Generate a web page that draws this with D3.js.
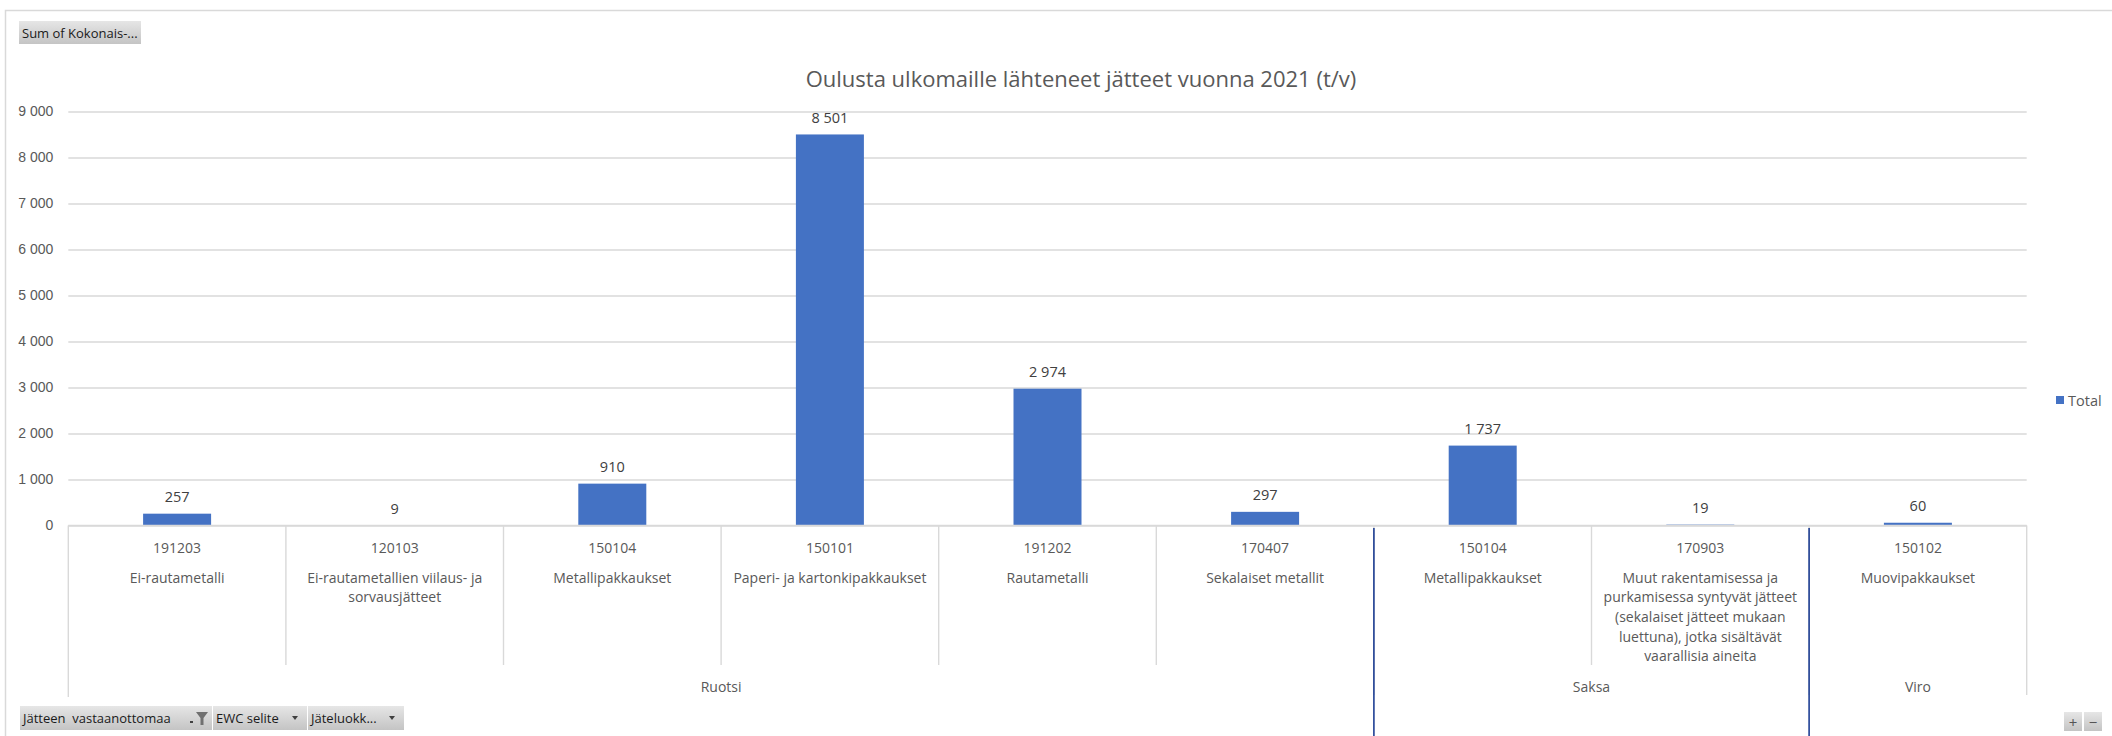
<!DOCTYPE html>
<html>
<head>
<meta charset="utf-8">
<script src="https://cdn.jsdelivr.net/npm/d3@7"></script>
<style>
  body { margin: 0; background: #fff; }
  svg { display: block; font-family: "Open Sans", "Noto Sans", sans-serif; }
</style>
</head>
<body>
<svg></svg>
<script>
// data
const codes = ["191203", "120103", "150104", "150101", "191202", "170407", "150104", "170903", "150102"]
const names = [
    ["Ei-rautametalli"],
    ["Ei-rautametallien viilaus- ja", "sorvausjätteet"],
    ["Metallipakkaukset"],
    ["Paperi- ja kartonkipakkaukset"],
    ["Rautametalli"],
    ["Sekalaiset metallit"],
    ["Metallipakkaukset"],
    ["Muut rakentamisessa ja", "purkamisessa syntyvät jätteet", "(sekalaiset jätteet mukaan", "luettuna), jotka sisältävät", "vaarallisia aineita"],
    ["Muovipakkaukset"]
]
const countries = ["Ruotsi", "Ruotsi", "Ruotsi", "Ruotsi", "Ruotsi", "Ruotsi", "Saksa", "Saksa", "Viro"]
const totals = [257, 9, 910, 8501, 2974, 297, 1737, 19, 60]
const yTicks = [0, 1000, 2000, 3000, 4000, 5000, 6000, 7000, 8000, 9000]

const chartTitle = "Oulusta ulkomaille lähteneet jätteet vuonna 2021 (t/v)"
const seriesName = "Total"
const fieldButton = "Sum of Kokonais-..."
const axisButtons = ["Jätteen  vastaanottomaa", "EWC selite", "Jäteluokk..."]

let width = 2112
let height = 736
let plotLeft = 68.3
let plotRight = 2026.7
let plotTop = 111.5
let plotBottom = 525.5

let barColor = "#4472c4"
let textColor = "#595959"
let gridColor = "#d9d9d9"

let svg = d3.select("svg").attr("width", width).attr("height", height)

// frame of the chart area
svg.append("path")
    .attr("d", "M5.5," + height + " V10.5 H" + width)
    .attr("fill", "none")
    .attr("stroke", "#d9d9d9")
    .attr("stroke-width", 1.5)

let idx = d3.range(codes.length)

let xScale = d3.scaleBand()
    .domain(idx)
    .range([plotLeft, plotRight])

let barScale = d3.scaleBand()
    .domain(idx)
    .range([plotLeft, plotRight])
    .paddingInner(0.6875)
    .paddingOuter(0.34375)

let yScale = d3.scaleLinear()
    .domain([0, 9000])
    .range([plotBottom, plotTop])

let fmt = d3.formatLocale({ decimal: ",", thousands: "\u00a0", grouping: [3], currency: ["", ""] }).format(",d")

// y axis + gridlines
let yAxis = d3.axisLeft(yScale)
    .tickValues(yTicks)
    .tickFormat(fmt)
    .tickSize(-(plotRight - plotLeft))
    .tickPadding(15)

let yG = svg.append("g")
    .attr("transform", "translate(" + plotLeft + ",0)")
    .call(yAxis)
yG.select(".domain").remove()
yG.selectAll("line").attr("stroke", gridColor).attr("stroke-width", 1.4)
yG.selectAll("text")
    .attr("fill", textColor)
    .style("font-size", "14px")

// title
svg.append("text")
    .attr("x", 1081)
    .attr("y", 78)
    .attr("text-anchor", "middle")
    .attr("dominant-baseline", "central")
    .attr("fill", textColor)
    .style("font-size", "22px")
    .text(chartTitle)

// bars
svg.selectAll("rect.bar")
    .data(idx)
    .enter()
    .append("rect")
    .attr("class", "bar")
    .attr("x", (i) => barScale(i))
    .attr("width", barScale.bandwidth())
    .attr("y", (i) => yScale(totals[i]))
    .attr("height", (i) => yScale(0) - yScale(totals[i]))
    .attr("fill", barColor)

// value labels
svg.selectAll("text.val")
    .data(idx)
    .enter()
    .append("text")
    .attr("class", "val")
    .attr("x", (i) => xScale(i) + xScale.bandwidth() / 2)
    .attr("y", (i) => yScale(totals[i]) - 17)
    .attr("text-anchor", "middle")
    .attr("dominant-baseline", "central")
    .attr("fill", "#404040")
    .style("font-size", "14.5px")
    .text((i) => fmt(totals[i]))

// category labels: code + name
let catG = svg.selectAll("g.cat")
    .data(idx)
    .enter()
    .append("g")
    .attr("class", "cat")
    .attr("transform", (i) => "translate(" + (xScale(i) + xScale.bandwidth() / 2) + ",0)")

catG.append("text")
    .attr("y", 547)
    .attr("text-anchor", "middle")
    .attr("dominant-baseline", "central")
    .attr("fill", textColor)
    .style("font-size", "14px")
    .text((i) => codes[i])

catG.each(function (i) {
    d3.select(this).selectAll("text.nm")
        .data(names[i])
        .enter()
        .append("text")
        .attr("class", "nm")
        .attr("y", (d, k) => 577 + k * 19.7)
        .attr("text-anchor", "middle")
        .attr("dominant-baseline", "central")
        .attr("fill", textColor)
        .style("font-size", "14px")
        .text((d) => d)
})

// country groups
let groups = []
countries.forEach((c, i) => {
    if (i == 0 || countries[i - 1] != c) {
        groups.push({ name: c, first: i, last: i })
    } else {
        groups[groups.length - 1].last = i
    }
})

svg.selectAll("text.country")
    .data(groups)
    .enter()
    .append("text")
    .attr("class", "country")
    .attr("x", (g) => (xScale(g.first) + xScale(g.last) + xScale.bandwidth()) / 2)
    .attr("y", 686)
    .attr("text-anchor", "middle")
    .attr("dominant-baseline", "central")
    .attr("fill", textColor)
    .style("font-size", "14px")
    .text((g) => g.name)

// separators in the axis area
let sepG = svg.append("g")
idx.concat([codes.length]).forEach((i) => {
    let x = i < codes.length ? xScale(i) : plotRight
    let groupEdge = i == 0 || i == codes.length || countries[i] != countries[i - 1]
    sepG.append("line")
        .attr("x1", x).attr("x2", x)
        .attr("y1", plotBottom)
        .attr("y2", i == 0 ? 697 : (groupEdge ? 695 : 665))
        .attr("stroke", gridColor)
        .attr("stroke-width", 1.4)
    if (groupEdge && i != 0 && i != codes.length) {
        sepG.append("line")
            .attr("x1", x).attr("x2", x)
            .attr("y1", 528)
            .attr("y2", height)
            .attr("stroke", "#1f3f94")
            .attr("stroke-width", 1.6)
    }
})

// x axis baseline
svg.append("line")
    .attr("x1", plotLeft).attr("x2", plotRight)
    .attr("y1", plotBottom).attr("y2", plotBottom)
    .attr("stroke", gridColor)
    .attr("stroke-width", 1.4)

// legend
svg.append("rect")
    .attr("x", 2056).attr("y", 396)
    .attr("width", 8).attr("height", 8)
    .attr("fill", barColor)
svg.append("text")
    .attr("x", 2068).attr("y", 400)
    .attr("dominant-baseline", "central")
    .attr("fill", textColor)
    .style("font-size", "14.5px")
    .text(seriesName)

// pivot field buttons
let grad = svg.append("defs").append("linearGradient")
    .attr("id", "btn").attr("x1", 0).attr("x2", 0).attr("y1", 0).attr("y2", 1)
grad.append("stop").attr("offset", "0%").attr("stop-color", "#e6e6e6")
grad.append("stop").attr("offset", "100%").attr("stop-color", "#c4c4c4")

let drawButton = (x, y, w, h, label, arrow, funnel) => {
    svg.append("rect")
        .attr("x", x).attr("y", y).attr("width", w).attr("height", h)
        .attr("fill", "url(#btn)")
    svg.append("text")
        .attr("x", x + 3).attr("y", y + h / 2)
        .attr("dominant-baseline", "central")
        .attr("fill", "#1a1a1a")
        .style("font-size", "13px")
        .style("white-space", "pre")
        .text(label)
    if (funnel) {
        svg.append("path")
            .attr("d", "M" + (x + w - 16) + "," + (y + 6) + " h12 l-4.5,6 v7 h-3 v-7 z")
            .attr("fill", "#707070")
        svg.append("rect")
            .attr("x", x + w - 22).attr("y", y + 15).attr("width", 3).attr("height", 2)
            .attr("fill", "#404040")
    } else if (arrow) {
        svg.append("path")
            .attr("d", "M" + (x + w - 15) + "," + (y + h / 2 - 2) + " h6 l-3,4 z")
            .attr("fill", "#404040")
    }
}

drawButton(19, 21, 122, 23, fieldButton, false, false)
drawButton(20, 706, 192, 24, axisButtons[0], false, true)
drawButton(213, 706, 94, 24, axisButtons[1], true, false)
drawButton(308, 706, 96, 24, axisButtons[2], true, false)

// zoom buttons
svg.append("rect").attr("x", 2064).attr("y", 712).attr("width", 18).attr("height", 19).attr("fill", "url(#btn)")
svg.append("rect").attr("x", 2084).attr("y", 712).attr("width", 18).attr("height", 19).attr("fill", "url(#btn)")
svg.append("text").attr("x", 2073).attr("y", 721.5).attr("text-anchor", "middle").attr("dominant-baseline", "central")
    .attr("fill", "#555").style("font-size", "15px").text("+")
svg.append("text").attr("x", 2093).attr("y", 721.5).attr("text-anchor", "middle").attr("dominant-baseline", "central")
    .attr("fill", "#555").style("font-size", "15px").text("−")
</script>
</body>
</html>
